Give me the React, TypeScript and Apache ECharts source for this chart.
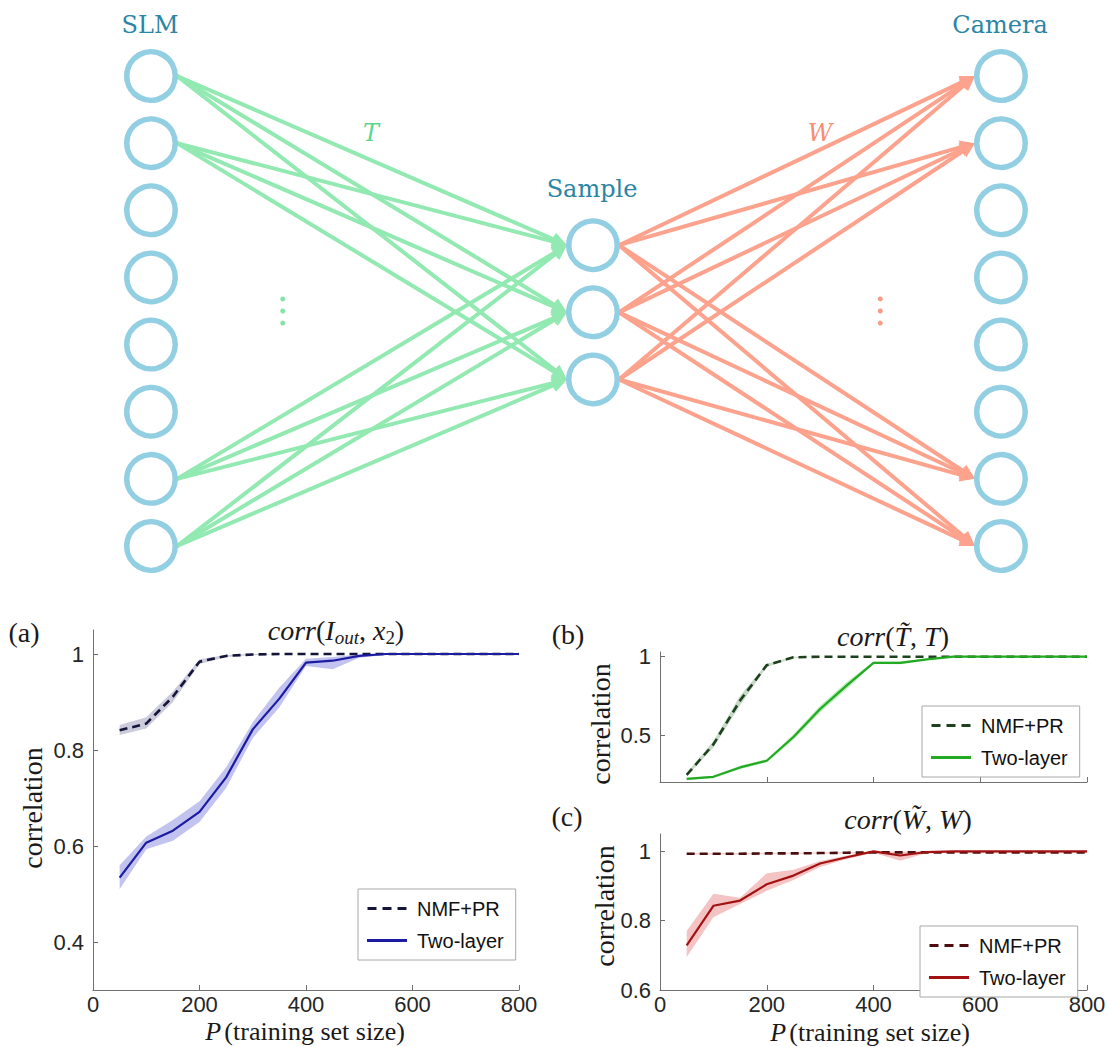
import React, { useEffect, useRef } from "react";
import * as echarts from "echarts";

// ---------------- DATA ----------------
// Network diagram (abstract units: layer position 0..1, row index 0..7)
const layerSLM = 0;
const layerSample = 0.52;
const layerCamera = 1;
const slmRows = [0, 1, 2, 3, 4, 5, 6, 7];
const sampleRows = [2.52, 3.52, 4.52];
const cameraRows = [0, 1, 2, 3, 4, 5, 6, 7];
const slmLinked = [0, 1, 6, 7];
const cameraLinked = [0, 1, 6, 7];
const dotRows = [3.32, 3.5, 3.68];
const dotXT = 0.155;
const dotXW = 0.858;

// Curves
const P = [50, 100, 150, 200, 250, 300, 350, 400, 450, 500, 550, 600, 650, 700, 750, 800];

const aNmf = [0.841, 0.855, 0.911, 0.984, 0.996, 0.999, 1, 1, 1, 1, 1, 1, 1, 1, 1, 1];
const aNmfLo = [0.831, 0.845, 0.9, 0.979, 0.994, 0.998, 1, 1, 1, 1, 1, 1, 1, 1, 1, 1];
const aNmfHi = [0.852, 0.868, 0.922, 0.989, 0.998, 1, 1, 1, 1, 1, 1, 1, 1, 1, 1, 1];
const aTwo = [0.534, 0.607, 0.632, 0.671, 0.743, 0.843, 0.907, 0.982, 0.986, 0.996, 1, 1, 1, 1, 1, 1];
const aTwoLo = [0.51, 0.593, 0.611, 0.65, 0.721, 0.825, 0.889, 0.975, 0.968, 0.992, 0.998, 1, 1, 1, 1, 1];
const aTwoHi = [0.56, 0.62, 0.654, 0.693, 0.764, 0.858, 0.93, 0.99, 0.994, 0.999, 1, 1, 1, 1, 1, 1];

const bNmf = [0.246, 0.44, 0.72, 0.946, 0.996, 1, 1, 1, 1, 1, 1, 1, 1, 1, 1, 1];
const bNmfLo = [0.235, 0.42, 0.69, 0.935, 0.993, 1, 1, 1, 1, 1, 1, 1, 1, 1, 1, 1];
const bNmfHi = [0.257, 0.46, 0.75, 0.955, 0.999, 1, 1, 1, 1, 1, 1, 1, 1, 1, 1, 1];
const bTwo = [0.22, 0.233, 0.293, 0.336, 0.487, 0.666, 0.817, 0.961, 0.961, 0.983, 1, 1, 1, 1, 1, 1];
const bTwoLo = [0.213, 0.226, 0.283, 0.326, 0.47, 0.645, 0.795, 0.953, 0.952, 0.978, 0.998, 1, 1, 1, 1, 1];
const bTwoHi = [0.227, 0.24, 0.303, 0.346, 0.504, 0.687, 0.839, 0.968, 0.97, 0.988, 1, 1, 1, 1, 1, 1];

const cNmf = [0.993, 0.993, 0.993, 0.994, 0.994, 0.995, 0.996, 0.997, 0.997, 0.997, 0.997, 0.997, 0.997, 0.997, 0.997, 0.997];
const cNmfLo = [0.991, 0.991, 0.991, 0.992, 0.992, 0.993, 0.994, 0.995, 0.995, 0.995, 0.995, 0.995, 0.995, 0.995, 0.995, 0.995];
const cNmfHi = [0.995, 0.995, 0.995, 0.996, 0.996, 0.997, 0.998, 0.999, 0.999, 0.999, 0.999, 0.999, 0.999, 0.999, 0.999, 0.999];
const cTwo = [0.729, 0.843, 0.858, 0.905, 0.93, 0.965, 0.983, 1.0, 0.988, 0.998, 1, 1, 1, 1, 1, 1];
const cTwoLo = [0.695, 0.81, 0.848, 0.886, 0.917, 0.955, 0.978, 0.996, 0.973, 0.995, 0.998, 0.999, 0.999, 0.999, 0.999, 0.999];
const cTwoHi = [0.77, 0.878, 0.866, 0.937, 0.947, 0.972, 0.988, 1.0, 0.998, 1.0, 1, 1, 1, 1, 1, 1];

const aYTicks = [0.4, 0.6, 0.8, 1];
const bYTicks = [0.5, 1];
const cYTicks = [0.6, 0.8, 1];

// ---------------- STYLE ----------------
const RING = "#93cfe3";
const GREEN = "#92e9b1";
const SALMON = "#fca28d";
const TEAL = "#2b85a4";
const SERIF = "Liberation Serif";
const SANS = "Liberation Sans";
const AX = "#707070";
const LAB = "#262626";
const TXT = "#1a1a1a";

const DASH_ICON = "path://M0,0H9V3H0Z M15,0H24V3H15Z M30,0H39V3H30Z";

function buildOption() {
  const nodes: number[][] = [];
  slmRows.forEach((r) => nodes.push([layerSLM, r]));
  sampleRows.forEach((r) => nodes.push([layerSample, r]));
  cameraRows.forEach((r) => nodes.push([layerCamera, r]));

  const tEdges: number[][] = [];
  slmLinked.forEach((s) => sampleRows.forEach((m) => tEdges.push([layerSLM, s, layerSample, m])));
  const wEdges: number[][] = [];
  sampleRows.forEach((m) => cameraLinked.forEach((c) => wEdges.push([layerSample, m, layerCamera, c])));

  const R = 26;
  const AL = 15;
  const AW = 7;
  const edgeRender = (color: string) => (params: any, api: any) => {
    const p1 = api.coord([api.value(0), api.value(1)]);
    const p2 = api.coord([api.value(2), api.value(3)]);
    const s = [p1[0] + R, p1[1]];
    const t = [p2[0] - R, p2[1]];
    const dx = t[0] - s[0];
    const dy = t[1] - s[1];
    const len = Math.hypot(dx, dy);
    const ux = dx / len;
    const uy = dy / len;
    const base = [t[0] - ux * AL, t[1] - uy * AL];
    const px = -uy;
    const py = ux;
    return {
      type: "group",
      children: [
        {
          type: "line",
          shape: { x1: s[0], y1: s[1], x2: base[0] + ux * 3, y2: base[1] + uy * 3 },
          style: { stroke: color, lineWidth: 4, lineCap: "round" },
        },
        {
          type: "polygon",
          shape: {
            points: [
              [t[0], t[1]],
              [base[0] + px * AW, base[1] + py * AW],
              [base[0] - px * AW, base[1] - py * AW],
            ],
          },
          style: { fill: color },
        },
      ],
    };
  };

  const pair = (arr: number[]) => P.map((p, i) => [p, arr[i]]);

  const band = (name: string, gi: number, lo: number[], hi: number[], color: string) => ({
    type: "custom",
    name,
    xAxisIndex: gi,
    yAxisIndex: gi,
    data: P.map((p, i) => [p, lo[i], hi[i]]),
    encode: { x: 0, y: [1, 2] },
    silent: true,
    z: 1,
    renderItem: (params: any, api: any) => {
      if (params.dataIndex !== 0) return null;
      const n = params.dataInsideLength;
      const top: number[][] = [];
      const bot: number[][] = [];
      for (let i = 0; i < n; i++) {
        const x = api.value(0, i);
        top.push(api.coord([x, api.value(2, i)]));
        bot.push(api.coord([x, api.value(1, i)]));
      }
      return {
        type: "polygon",
        shape: { points: top.concat(bot.reverse()) },
        style: { fill: color },
      };
    },
  });

  const curve = (name: string, gi: number, vals: number[], color: string, dashed: boolean) => ({
    type: "line",
    name,
    xAxisIndex: gi,
    yAxisIndex: gi,
    data: pair(vals),
    symbol: "none",
    color,
    lineStyle: { color, width: dashed ? 2.6 : 2.2, type: dashed ? [8, 5] : "solid" },
    z: dashed ? 3 : 4,
  });

  const xAxisFor = (gi: number, showLabels: boolean, margin: number) => ({
    type: "value",
    gridIndex: gi,
    min: 0,
    max: 800,
    interval: 200,
    axisLine: { show: true, onZero: false, lineStyle: { color: AX, width: 1 } },
    axisTick: { show: true, inside: true, length: 5, lineStyle: { color: AX } },
    axisLabel: { show: showLabels, color: LAB, fontSize: 22, fontFamily: SANS, margin },
    splitLine: { show: false },
  });

  const yAxisFor = (gi: number, min: number, max: number, ticks: number[]) => ({
    type: "value",
    gridIndex: gi,
    min,
    max,
    axisLine: { show: true, onZero: false, lineStyle: { color: AX, width: 1 } },
    axisTick: { show: true, inside: true, length: 5, lineStyle: { color: AX }, customValues: ticks },
    axisLabel: {
      show: true,
      color: LAB,
      fontSize: 22,
      fontFamily: SANS,
      margin: 9,
      customValues: ticks,
      formatter: (v: number) => String(+v.toFixed(2)),
    },
    splitLine: { show: false },
  });

  const legendFor = (gi: string, left: number, top: number, nmfColor: string, twoColor: string) => ({
    orient: "vertical",
    left,
    top,
    selectedMode: false,
    itemWidth: 40,
    itemHeight: 3,
    itemGap: 9,
    padding: [8, 12, 8, 9],
    backgroundColor: "#fff",
    borderColor: "#a8a8a8",
    borderWidth: 1,
    borderRadius: 0,
    z: 10,
    formatter: (n: string) => n.split("|")[0],
    textStyle: { fontSize: 20, fontFamily: SANS, color: "#111", padding: [0, 0, 0, 5], lineHeight: 23 },
    data: [
      { name: "NMF+PR|" + gi, icon: DASH_ICON, itemStyle: { color: nmfColor, borderWidth: 0 } },
      { name: "Two-layer|" + gi, icon: "rect", itemStyle: { color: twoColor, borderWidth: 0 } },
    ],
  });

  const richTitle = {
    it: { fontFamily: SERIF, fontStyle: "italic", fontSize: 28, lineHeight: 34, fill: TXT },
    up: { fontFamily: SERIF, fontSize: 28, lineHeight: 34, fill: TXT },
    sub: { fontFamily: SERIF, fontStyle: "italic", fontSize: 19, lineHeight: 34, verticalAlign: "bottom", fill: TXT },
    subup: { fontFamily: SERIF, fontSize: 19, lineHeight: 34, verticalAlign: "bottom", fill: TXT },
  };
  const richAxis = {
    it: { fontFamily: SERIF, fontStyle: "italic", fontSize: 26, fill: TXT },
    up: { fontFamily: SERIF, fontSize: 26, fill: TXT },
  };

  const txt = (text: string, x: number, y: number, font: any, extra: any = {}) => ({
    type: "text",
    x,
    y,
    silent: true,
    z: 20,
    ...extra,
    style: { text, align: "center", verticalAlign: "middle", ...font },
  });

  const graphic = [
    txt("SLM", 150, 25, { fontFamily: "DejaVu Serif", fontSize: 24, fill: TEAL }),
    txt("Sample", 592, 189, { fontFamily: "DejaVu Serif", fontSize: 24, fill: TEAL }),
    txt("Camera", 1000, 25, { fontFamily: "DejaVu Serif", fontSize: 24, fill: TEAL }),
    txt("T", 371, 133, { fontFamily: "DejaVu Serif", fontStyle: "italic", fontSize: 24, fill: "#5cd690" }),
    txt("W", 820, 133, { fontFamily: "DejaVu Serif", fontStyle: "italic", fontSize: 24, fill: "#f98c74" }),
    txt("(a)", 24, 632, { fontFamily: SERIF, fontSize: 28, fill: TXT }),
    txt("(b)", 568, 634, { fontFamily: SERIF, fontSize: 28, fill: TXT }),
    txt("(c)", 567, 816, { fontFamily: SERIF, fontSize: 28, fill: TXT }),
    txt("{it|corr}{up|(}{it|I}{sub|out}{up|, }{it|x}{subup|2}{up|)}", 336, 630, { rich: richTitle }),
    txt("{it|corr}{up|(}{it|T\u0303}{up|, }{it|T}{up|)}", 893, 636, { rich: richTitle }),
    txt("{it|corr}{up|(}{it|W\u0303}{up|, }{it|W}{up|)}", 908, 819, { rich: richTitle }),
    txt("correlation", 32, 808, { fontFamily: SERIF, fontSize: 28, fill: TXT }, { rotation: Math.PI / 2 }),
    txt("correlation", 600, 724, { fontFamily: SERIF, fontSize: 28, fill: TXT }, { rotation: Math.PI / 2 }),
    txt("correlation", 604, 906, { fontFamily: SERIF, fontSize: 28, fill: TXT }, { rotation: Math.PI / 2 }),
    txt("{it|P} {up|(training set size)}", 305, 1031, { rich: richAxis }),
    txt("{it|P} {up|(training set size)}", 870, 1032, { rich: richAxis }),
  ];

  return {
    animation: false,
    backgroundColor: "#fff",
    graphic,
    grid: [
      { left: 151, right: 110, top: 76, bottom: 501, outerBoundsMode: "none" },
      { left: 93, right: 592, top: 630, bottom: 57, outerBoundsMode: "none" },
      { left: 660, right: 24, top: 652, bottom: 265, outerBoundsMode: "none" },
      { left: 660, right: 24, top: 834, bottom: 57, outerBoundsMode: "none" },
    ],
    xAxis: [
      { type: "value", gridIndex: 0, min: 0, max: 1, show: false },
      xAxisFor(1, true, 3),
      xAxisFor(2, false, 3),
      xAxisFor(3, true, 3),
    ],
    yAxis: [
      { type: "value", gridIndex: 0, min: 0, max: 7, inverse: true, show: false },
      yAxisFor(1, 0.3, 1.05, aYTicks),
      yAxisFor(2, 0.2, 1.03, bYTicks),
      yAxisFor(3, 0.6, 1.05, cYTicks),
    ],
    legend: [
      legendFor("a", 358, 889, "#15153a", "#1c1ca0"),
      legendFor("b", 922, 706, "#1d401d", "#22aa22"),
      legendFor("c", 920, 926, "#4b0d0d", "#a31212"),
    ],
    series: [
      {
        type: "custom",
        name: "T-edges",
        xAxisIndex: 0,
        yAxisIndex: 0,
        data: tEdges,
        encode: { x: [0, 2], y: [1, 3] },
        renderItem: edgeRender(GREEN),
        silent: true,
        z: 2,
      },
      {
        type: "custom",
        name: "W-edges",
        xAxisIndex: 0,
        yAxisIndex: 0,
        data: wEdges,
        encode: { x: [0, 2], y: [1, 3] },
        renderItem: edgeRender(SALMON),
        silent: true,
        z: 2,
      },
      {
        type: "scatter",
        name: "nodes",
        xAxisIndex: 0,
        yAxisIndex: 0,
        data: nodes,
        symbol: "circle",
        symbolSize: 48.5,
        itemStyle: { color: "#fff", borderColor: RING, borderWidth: 5.5, opacity: 1 },
        silent: true,
        z: 5,
      },
      {
        type: "scatter",
        name: "dotsT",
        xAxisIndex: 0,
        yAxisIndex: 0,
        data: dotRows.map((r) => [dotXT, r]),
        symbolSize: 5,
        itemStyle: { color: "#86e3a8", opacity: 1 },
        silent: true,
        z: 5,
      },
      {
        type: "scatter",
        name: "dotsW",
        xAxisIndex: 0,
        yAxisIndex: 0,
        data: dotRows.map((r) => [dotXW, r]),
        symbolSize: 5,
        itemStyle: { color: "#f99a86", opacity: 1 },
        silent: true,
        z: 5,
      },
      band("aN", 1, aNmfLo, aNmfHi, "#cbcbdc"),
      band("aT", 1, aTwoLo, aTwoHi, "#c3c3f0"),
      curve("NMF+PR|a", 1, aNmf, "#15153a", true),
      curve("Two-layer|a", 1, aTwo, "#1c1ca0", false),
      band("bN", 2, bNmfLo, bNmfHi, "#c6d8c6"),
      band("bT", 2, bTwoLo, bTwoHi, "#b6ecb6"),
      curve("NMF+PR|b", 2, bNmf, "#1d401d", true),
      curve("Two-layer|b", 2, bTwo, "#22aa22", false),
      band("cN", 3, cNmfLo, cNmfHi, "#eed2d2"),
      band("cT", 3, cTwoLo, cTwoHi, "#f4c4c4"),
      curve("NMF+PR|c", 3, cNmf, "#4b0d0d", true),
      curve("Two-layer|c", 3, cTwo, "#a31212", false),
    ],
  };
}

export default function App() {
  const ref = useRef<HTMLDivElement>(null);
  useEffect(() => {
    document.body.style.margin = "0";
    if (!ref.current) return;
    const chart = echarts.init(ref.current, undefined, { renderer: "svg" });
    chart.setOption(buildOption() as any);
    return () => chart.dispose();
  }, []);
  return <div ref={ref} style={{ width: 1111, height: 1047 }} />;
}
